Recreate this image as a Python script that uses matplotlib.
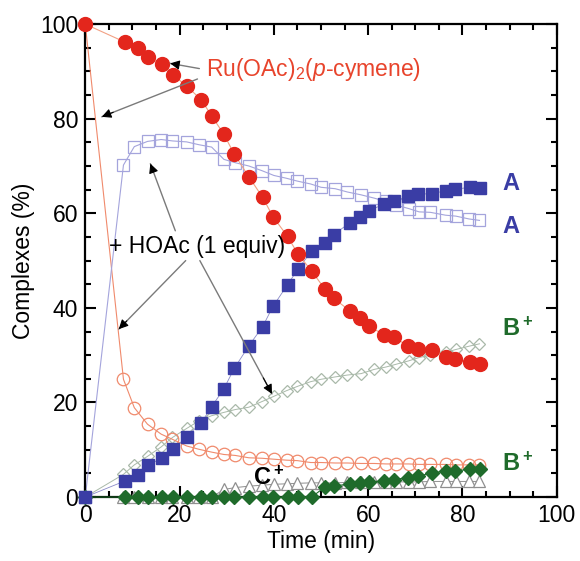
import matplotlib
matplotlib.use('Agg')
import matplotlib.pyplot as plt
from matplotlib.ticker import MultipleLocator

plt.rcParams['font.family'] = ['Liberation Sans', 'DejaVu Sans']
plt.rcParams['mathtext.fontset'] = 'custom'
plt.rcParams['mathtext.rm'] = 'Liberation Sans'
plt.rcParams['mathtext.it'] = 'Liberation Sans:italic'
plt.rcParams['mathtext.bf'] = 'Liberation Sans:bold'

# ─── data: without acid (filled symbols) ──────────────────────────────────────
t_neat = [0, 8.4, 11.2, 13.3, 16.3, 18.7, 21.5, 24.6, 26.8, 29.4, 31.6, 34.7, 37.6,
          39.8, 42.9, 45.1, 48.0, 50.8, 52.7, 56.1, 58.2, 60.2, 63.4, 65.4, 68.4,
          70.5, 73.5, 76.4, 78.5, 81.6, 83.8]
ru_neat = [100, 96.2, 95.0, 93.0, 91.5, 89.2, 86.9, 84.0, 80.6, 76.7, 72.5, 67.7, 63.4,
           59.3, 55.1, 51.4, 47.8, 44.0, 42.0, 39.4, 37.9, 36.1, 34.3, 33.8, 32.0,
           31.3, 31.1, 29.7, 29.2, 28.5, 28.1]
a_neat = [0, 3.4, 4.6, 6.7, 8.3, 10.1, 12.8, 15.7, 19.1, 22.9, 27.2, 32.0, 36.0,
          40.3, 44.9, 48.2, 52.0, 53.8, 55.5, 58.0, 59.3, 60.5, 62.0, 62.6, 63.6,
          64.1, 64.1, 64.8, 65.1, 65.5, 65.4]
b_neat = [0, 0, 0, 0, 0, 0, 0, 0, 0, 0, 0, 0, 0,
          0, 0, 0, 0, 2.1, 2.3, 2.8, 3.0, 3.2, 3.4, 3.7, 4.1,
          4.4, 5.1, 5.5, 5.5, 5.9, 6.0]

# ─── data: + HOAc (open symbols) ──────────────────────────────────────────────
t_acid = [0, 8.1, 10.4, 13.2, 16.1, 18.5, 21.5, 24.1, 26.8, 29.4, 31.8, 34.7, 37.5,
          40.0, 42.7, 45.0, 47.8, 50.0, 53.0, 55.6, 58.5, 61.3, 63.8, 66.0, 68.6,
          70.8, 73.2, 76.4, 78.6, 81.4, 83.6]
ru_acid = [100, 24.9, 18.9, 15.4, 13.3, 12.2, 10.8, 10.1, 9.5, 9.0, 8.8, 8.3, 8.2,
           8.0, 7.8, 7.7, 7.3, 7.3, 7.2, 7.2, 7.1, 7.1, 7.0, 7.0, 7.0,
           6.9, 6.9, 6.9, 6.8, 6.8, 6.8]
a_acid = [0, 70.2, 74.1, 75.2, 75.6, 75.3, 75.1, 74.5, 74.0, 71.4, 70.7, 70.0, 69.0,
          68.0, 67.4, 66.8, 66.2, 65.5, 65.2, 64.5, 63.9, 63.2, 62.5, 61.7, 61.0,
          60.3, 60.2, 59.6, 59.4, 58.8, 58.5]
b_acid = [0, 4.8, 6.8, 8.6, 10.6, 12.6, 14.5, 16.1, 17.2, 17.9, 18.5, 19.0, 20.2,
          21.3, 22.5, 23.4, 24.4, 24.9, 25.4, 25.8, 26.1, 27.0, 27.5, 28.1, 28.8,
          29.5, 30.0, 30.6, 31.2, 31.9, 32.4]
c_acid = [0, 0, 0, 0, 0, 0, 0, 0, 0, 1.6, 2.0, 2.3, 2.5,
          2.7, 2.8, 2.9, 3.0, 3.0, 3.0, 3.1, 3.1, 3.1, 3.2, 3.2, 3.2,
          3.2, 3.3, 3.3, 3.3, 3.3, 3.3]

RED = '#e3261c'
BLUE = '#3a3da5'
LAV = '#a4a4dc'
SALMON = '#f08a6c'
GREY_GREEN = '#a9b9a9'
GREY = '#8f8f8f'
GREEN = '#1f6b2b'

fig = plt.figure(figsize=(5.8, 5.61), dpi=100)
ax = fig.add_axes([0.147, 0.114, 0.813, 0.843])

# open (HOAc) series first, underneath
ax.plot(t_acid, c_acid, color=GREY, lw=0.7, marker='^', ms=8, mfc='white',
        mec=GREY, mew=0.9, clip_on=False, zorder=2)
ax.plot(t_acid, b_acid, color=GREY_GREEN, lw=0.7, marker='D', ms=6.5, mfc='none',
        mec=GREY_GREEN, mew=0.9, clip_on=False, zorder=2)
ax.plot(t_acid, ru_acid, color=SALMON, lw=0.8, marker='o', ms=9, mfc='none',
        mec=SALMON, mew=0.9, clip_on=False, zorder=2)
ax.plot(t_acid, a_acid, color=LAV, lw=0.8, marker='s', ms=8.5, mfc='none',
        mec=LAV, mew=0.9, clip_on=False, zorder=2)

# filled (neat) series on top
ax.plot(t_neat, b_neat, color=GREEN, lw=0.8, marker='D', ms=7, mfc=GREEN,
        mec=GREEN, clip_on=False, zorder=3)
ax.plot(t_neat, a_neat, color='#8a8ac8', lw=0.6, marker='s', ms=9, mfc=BLUE,
        mec=BLUE, clip_on=False, zorder=3)
ax.plot(t_neat, ru_neat, color='#f2a184', lw=0.8, marker='o', ms=10, mfc=RED,
        mec=RED, clip_on=False, zorder=4)

ax.set_xlim(0, 100)
ax.set_ylim(0, 100)
ax.xaxis.set_major_locator(MultipleLocator(20))
ax.xaxis.set_minor_locator(MultipleLocator(5))
ax.yaxis.set_major_locator(MultipleLocator(20))
ax.yaxis.set_minor_locator(MultipleLocator(5))
ax.tick_params(which='both', direction='in', top=True, right=True, labelsize=16.5,
               width=1.5, color='black', pad=5)
ax.tick_params(which='major', length=8)
ax.tick_params(which='minor', length=4)
for sp in ax.spines.values():
    sp.set_linewidth(1.6)

ax.set_xlabel('Time (min)', fontsize=16.5, labelpad=2)
ax.set_ylabel('Complexes (%)', fontsize=16.5, labelpad=4)


def pointer(head, tail):
    # grey shaft with a small black head, as in the original figure
    ax.annotate('', xy=head, xytext=tail, zorder=6,
                arrowprops=dict(arrowstyle='-', color='#7a7a7a', lw=1.0,
                                shrinkA=0, shrinkB=0))
    dx, dy = head[0] - tail[0], head[1] - tail[1]
    ax.annotate('', xy=head, xytext=(head[0] - 0.12 * dx, head[1] - 0.12 * dy),
                zorder=7,
                arrowprops=dict(arrowstyle='-|>', color='black', lw=0.8,
                                mutation_scale=14, shrinkA=0, shrinkB=0))


ax.text(25.5, 90.3, r'Ru(OAc)$_2$($\mathit{p}$-cymene)', color='#e8442c',
        fontsize=16.5, ha='left', va='center', zorder=6)
pointer((18.0, 91.7), (24.2, 90.6))
pointer((3.5, 80.4), (23.8, 88.4))

ax.text(5.0, 53.0, '+ HOAc (1 equiv)', color='black', fontsize=16.5,
        ha='left', va='center', zorder=6)
pointer((13.8, 70.5), (19.1, 56.3))
pointer((7.1, 35.5), (21.3, 50.0))
pointer((39.6, 21.8), (24.3, 50.0))

ax.text(88.5, 66.3, 'A', color=BLUE, fontsize=17, fontweight='bold',
        ha='left', va='center')
ax.text(88.5, 57.3, 'A', color=BLUE, fontsize=17, fontweight='bold',
        ha='left', va='center')
ax.text(88.3, 35.5, r'$\mathbf{B^+}$', color=GREEN, fontsize=17,
        ha='left', va='center')
ax.text(88.3, 7.0, r'$\mathbf{B^+}$', color=GREEN, fontsize=17,
        ha='left', va='center')
ax.text(35.5, 4.0, r'$\mathbf{C^+}$', color='black', fontsize=17,
        ha='left', va='center', zorder=6)

fig.savefig('out.png', dpi=100, facecolor='white')
plt.close(fig)
